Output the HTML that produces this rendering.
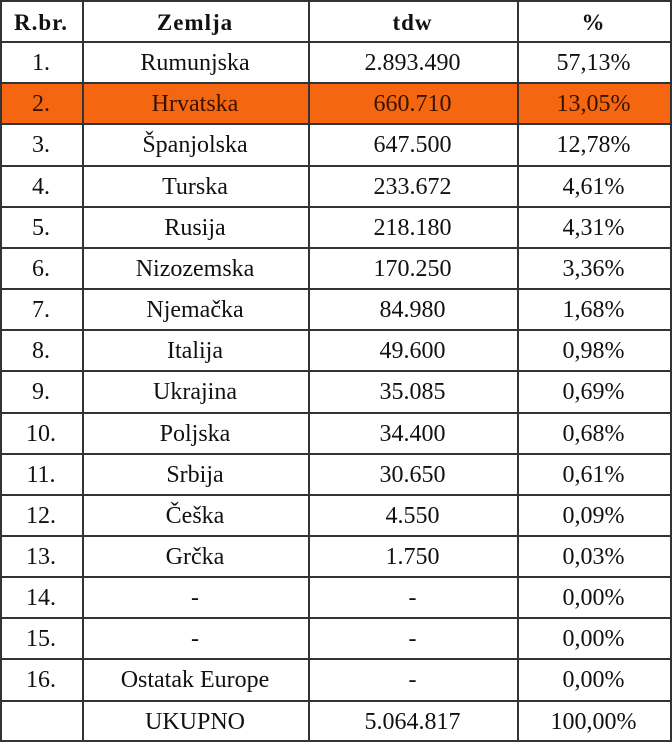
<!DOCTYPE html>
<html><head><style>
body{margin:0;width:672px;height:742px;background:#fff;position:relative;overflow:hidden;font-family:"Liberation Serif",serif;font-size:24px;color:#111}
.c{position:absolute;display:flex;align-items:center;justify-content:center;height:41px}
.h{position:absolute;left:0;width:672px;height:2px;background:#333}
.v{position:absolute;top:0;height:742px;width:2px;background:#333}
.o{position:absolute;left:0;width:672px;background:#f4660f}
b{font-weight:bold;font-size:23px;letter-spacing:1px}
</style></head><body>
<div class="o" style="top:83px;height:40px"></div>
<div id="t"></div>
<script>
var rows=[["<b>R.br.</b>","<b>Zemlja</b>","<b>tdw</b>","<b>%</b>"],
["1.","Rumunjska","2.893.490","57,13%"],["2.","Hrvatska","660.710","13,05%"],["3.","Španjolska","647.500","12,78%"],["4.","Turska","233.672","4,61%"],["5.","Rusija","218.180","4,31%"],["6.","Nizozemska","170.250","3,36%"],["7.","Njemačka","84.980","1,68%"],["8.","Italija","49.600","0,98%"],["9.","Ukrajina","35.085","0,69%"],["10.","Poljska","34.400","0,68%"],["11.","Srbija","30.650","0,61%"],["12.","Češka","4.550","0,09%"],["13.","Grčka","1.750","0,03%"],["14.","-","-","0,00%"],["15.","-","-","0,00%"],["16.","Ostatak Europe","-","0,00%"],["","UKUPNO","5.064.817","100,00%"]];
var xs=[0,82,308,517,670],h="",rh=41.15;
for(var i=0;i<rows.length;i++){for(var j=0;j<4;j++){h+='<div class="c" style="top:'+(i*rh+2)+'px;left:'+xs[j]+'px;width:'+(xs[j+1]-xs[j])+'px;'+(i==2?'color:#3a1200':'')+'">'+rows[i][j]+'</div>';}}
for(var i=0;i<=18;i++)h+='<div class="h" style="top:'+Math.min(740,Math.round(i*rh))+'px"></div>';
for(var j=0;j<5;j++)h+='<div class="v" style="left:'+xs[j]+'px"></div>';
document.getElementById('t').innerHTML=h;
</script>
</body></html>
